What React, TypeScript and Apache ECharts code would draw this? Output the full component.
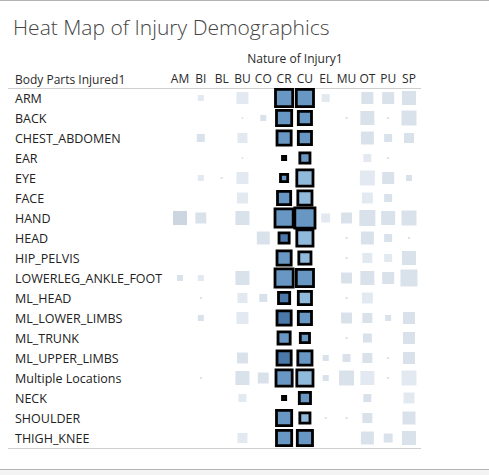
import React, { useEffect, useRef } from "react";
import * as echarts from "echarts";

const TITLE = "Heat Map of Injury Demographics";
const COLUMN_TITLE = "Nature of Injury1";
const ROW_TITLE = "Body Parts Injured1";

const natures = ["AM", "BI", "BL", "BU", "CO", "CR", "CU", "EL", "MU", "OT", "PU", "SP"];
const selectedNatures = ["CR", "CU"];

const bodyParts = [
  "ARM",
  "BACK",
  "CHEST_ABDOMEN",
  "EAR",
  "EYE",
  "FACE",
  "HAND",
  "HEAD",
  "HIP_PELVIS",
  "LOWERLEG_ANKLE_FOOT",
  "ML_HEAD",
  "ML_LOWER_LIMBS",
  "ML_TRUNK",
  "ML_UPPER_LIMBS",
  "Multiple Locations",
  "NECK",
  "SHOULDER",
  "THIGH_KNEE",
];

// injury counts, one array per body part, in the order of `natures`
const counts: number[][] = [
  [0, 9, 0, 36, 0, 100, 100, 16, 0, 36, 36, 49],
  [0, 0, 0, 1, 9, 81, 64, 0, 1, 49, 1, 56],
  [0, 16, 0, 25, 0, 72, 64, 0, 0, 42, 16, 25],
  [0, 0, 0, 1, 0, 9, 42, 0, 0, 16, 1, 0],
  [0, 9, 1, 36, 0, 25, 90, 0, 0, 56, 36, 9],
  [0, 0, 0, 30, 0, 64, 72, 0, 0, 30, 16, 0],
  [49, 30, 0, 49, 0, 110, 132, 20, 30, 64, 49, 56],
  [0, 0, 0, 0, 42, 42, 90, 0, 1, 42, 16, 1],
  [0, 0, 0, 0, 0, 72, 56, 0, 1, 25, 16, 49],
  [9, 9, 0, 49, 0, 110, 100, 0, 30, 49, 36, 72],
  [0, 1, 0, 25, 16, 49, 64, 0, 1, 30, 0, 0],
  [0, 9, 0, 36, 0, 72, 64, 0, 30, 25, 9, 36],
  [0, 0, 0, 0, 0, 56, 36, 0, 1, 20, 0, 36],
  [0, 0, 0, 30, 0, 72, 72, 9, 16, 25, 1, 36],
  [0, 1, 0, 49, 30, 90, 90, 9, 56, 49, 1, 56],
  [0, 0, 0, 16, 0, 9, 49, 0, 0, 16, 0, 30],
  [0, 0, 0, 0, 0, 81, 42, 1, 1, 25, 0, 42],
  [0, 0, 0, 25, 0, 81, 81, 0, 0, 42, 20, 49],
];

// colour measure (1 = low, 2 = medium, 3 = high), same layout as counts
const colorLevels: number[][] = [
  [2, 1, 2, 1, 2, 2, 2, 1, 2, 2, 2, 2],
  [2, 2, 2, 1, 2, 2, 2, 2, 2, 2, 2, 2],
  [2, 2, 2, 1, 2, 2, 2, 2, 2, 2, 2, 2],
  [2, 2, 2, 1, 2, 1, 2, 2, 2, 1, 2, 2],
  [2, 1, 2, 1, 2, 2, 1, 2, 2, 1, 2, 2],
  [2, 2, 2, 1, 2, 2, 1, 2, 2, 1, 2, 2],
  [3, 2, 2, 2, 2, 2, 2, 1, 2, 2, 2, 2],
  [2, 2, 2, 2, 2, 3, 1, 2, 2, 2, 2, 2],
  [2, 2, 2, 2, 2, 2, 1, 2, 2, 1, 1, 2],
  [2, 1, 2, 2, 2, 2, 2, 2, 2, 2, 2, 2],
  [2, 2, 2, 1, 2, 3, 1, 2, 2, 1, 2, 2],
  [2, 2, 2, 1, 2, 3, 2, 2, 2, 2, 2, 2],
  [2, 2, 2, 2, 2, 2, 2, 2, 2, 2, 2, 2],
  [2, 2, 2, 2, 2, 3, 2, 2, 2, 2, 2, 2],
  [2, 2, 2, 2, 2, 2, 1, 2, 2, 1, 2, 1],
  [2, 2, 2, 1, 2, 1, 2, 2, 2, 2, 2, 1],
  [2, 2, 2, 2, 2, 2, 1, 2, 2, 2, 2, 2],
  [2, 2, 2, 1, 2, 2, 2, 2, 2, 2, 2, 2],
];

const FULL_COLORS: Record<number, string> = { 1: "#8fbadb", 2: "#6897c3", 3: "#4a78a8" };
const FADED_COLORS: Record<number, string> = { 1: "#e2e9f1", 2: "#d9e1ea", 3: "#ccd5e0" };

const FONT = "'Open Sans', 'Noto Sans', sans-serif";
const BORDER = 2.8;

export default function App() {
  const ref = useRef<HTMLDivElement>(null);

  useEffect(() => {
    if (!ref.current) return;
    const chart = echarts.init(ref.current, undefined, { renderer: "svg" });

    const data: any[] = [];
    bodyParts.forEach((part, r) => {
      natures.forEach((nat, c) => {
        const v = counts[r][c];
        if (!v) return;
        const lvl = colorLevels[r][c];
        const sel = selectedNatures.includes(nat);
        const side = Math.sqrt(v) * 2;
        data.push({
          value: [nat, part, v],
          itemStyle: sel
            ? { color: FULL_COLORS[lvl], borderColor: "#000", borderWidth: BORDER, opacity: 1 }
            : { color: FADED_COLORS[lvl], borderWidth: 0, opacity: 1 },
          symbolSize: sel ? Math.max(side - BORDER, 1) : side,
        });
      });
    });

    chart.setOption({
      animation: false,
      textStyle: { fontFamily: FONT },
      title: {
        text: TITLE,
        left: 8,
        top: 11,
        textStyle: { fontSize: 21, fontWeight: 300, color: "#454545", fontFamily: FONT },
      },
      grid: { left: 169.6, top: 88, width: 249.8, height: 360 },
      xAxis: {
        type: "category",
        position: "top",
        data: natures,
        axisLine: { show: false },
        axisTick: { show: false },
        splitLine: { show: false },
        axisLabel: { color: "#2a2a2a", fontSize: 12, margin: 4, interval: 0, fontFamily: FONT },
      },
      yAxis: {
        type: "category",
        data: bodyParts,
        inverse: true,
        axisLine: { show: false },
        axisTick: { show: false },
        splitLine: { show: false },
        axisLabel: {
          color: "#222",
          fontSize: 12.5,
          align: "left",
          margin: 154.6,
          interval: 0,
          fontFamily: FONT,
        },
      },
      series: [
        {
          type: "scatter",
          symbol: "rect",
          itemStyle: { opacity: 1 },
          data,
          z: 3,
        },
      ],
      graphic: [
        { type: "line", shape: { x1: 0, y1: 0.5, x2: 489, y2: 0.5 }, style: { stroke: "#b4b4b4", lineWidth: 1 } },
        { type: "line", shape: { x1: 8, y1: 88.5, x2: 421, y2: 88.5 }, style: { stroke: "#cfcfcf", lineWidth: 1 } },
        { type: "line", shape: { x1: 8, y1: 448.5, x2: 421, y2: 448.5 }, style: { stroke: "#cfcfcf", lineWidth: 1 } },
        { type: "rect", shape: { x: 0, y: 469, width: 489, height: 6 }, style: { fill: "#f3f3f3" } },
        { type: "line", shape: { x1: 0, y1: 469.5, x2: 489, y2: 469.5 }, style: { stroke: "#b4b4b4", lineWidth: 1 } },
        {
          type: "text",
          x: 295,
          y: 58,
          style: {
            text: COLUMN_TITLE,
            align: "center",
            verticalAlign: "middle",
            fontSize: 12,
            fill: "#2a2a2a",
            fontFamily: FONT,
          },
        },
        {
          type: "text",
          x: 15,
          y: 79,
          style: {
            text: ROW_TITLE,
            align: "left",
            verticalAlign: "middle",
            fontSize: 12,
            fill: "#2a2a2a",
            fontFamily: FONT,
          },
        },
      ],
    });

    return () => chart.dispose();
  }, []);

  return (
    <div
      ref={ref}
      style={{ position: "fixed", left: 0, top: 0, width: 489, height: 475, background: "#fff" }}
    />
  );
}
